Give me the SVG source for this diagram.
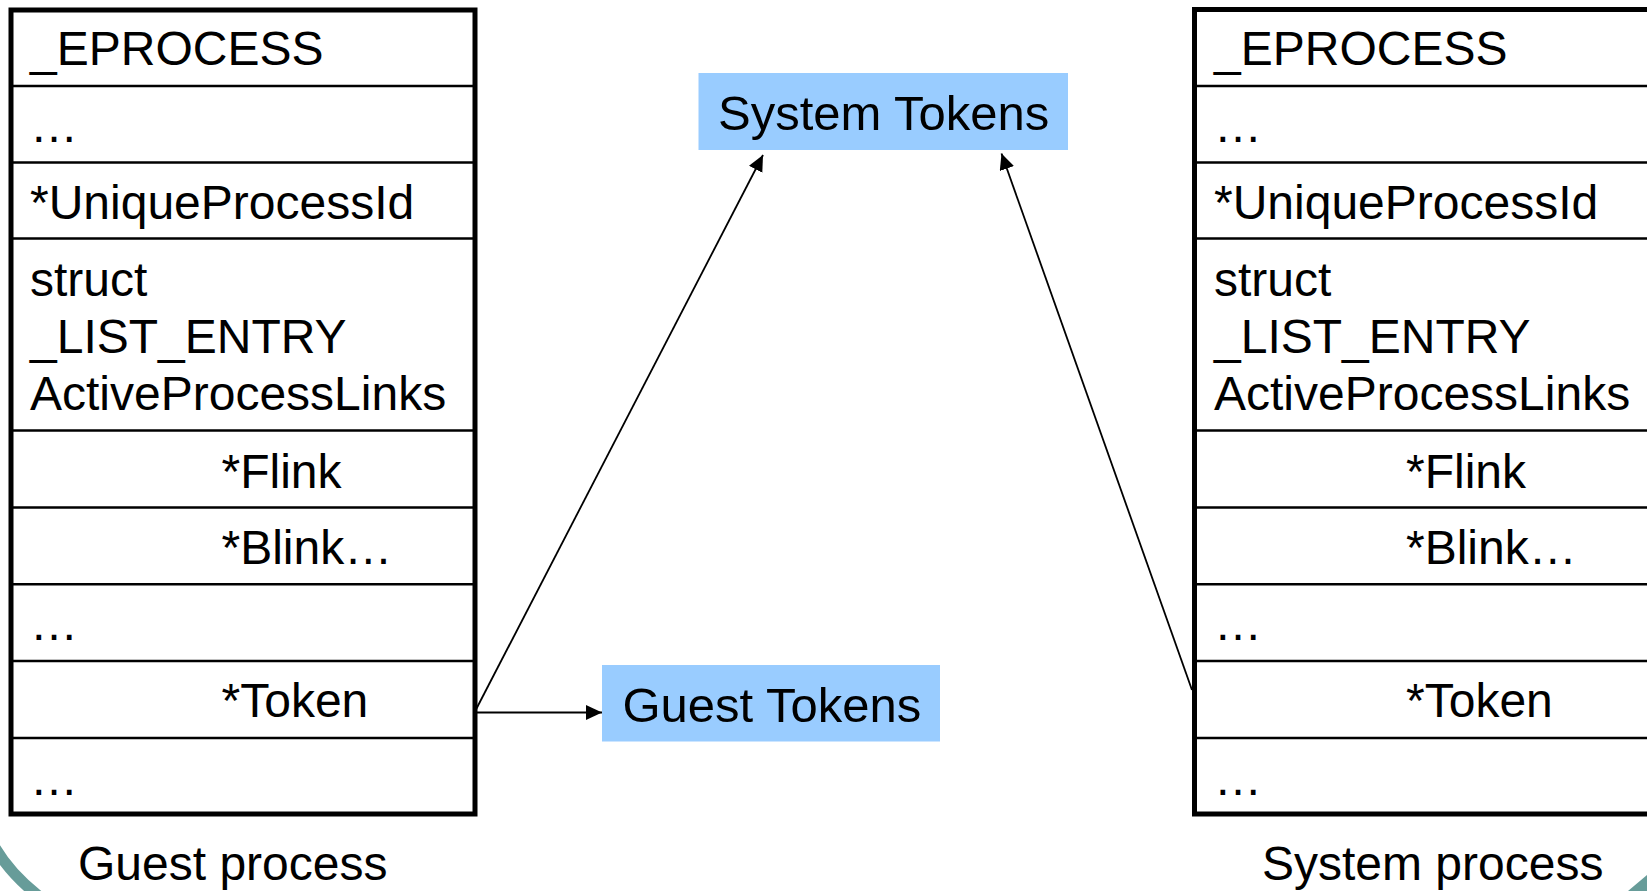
<svg xmlns="http://www.w3.org/2000/svg" width="1647" height="891" viewBox="0 0 1647 891">
<style>
  .box { fill: #ffffff; stroke: #000000; stroke-width: 5; }
  .row { stroke: #000000; stroke-width: 2.5; }
  .t { font-family: "Liberation Sans", Arial, sans-serif; font-size: 48px; fill: #000000; }
  .tt { font-family: "Liberation Sans", Arial, sans-serif; font-size: 49px; fill: #000000; }
  .tok { fill: #99CCFF; }
  .conn { stroke: #000000; stroke-width: 1.8; fill: none; marker-end: url(#arrow); }
  .deco { fill: none; stroke: #679C99; stroke-width: 11; }
</style>
<defs>
  <marker id="arrow" markerUnits="userSpaceOnUse" markerWidth="17" markerHeight="16" refX="16" refY="7.5" orient="auto">
    <path d="M0,0 L16,7.5 L0,15 z" fill="#000000"/>
  </marker>
</defs>
<rect x="0" y="0" width="1647" height="891" fill="#ffffff"/>
<path class="deco" d="M-6,846 Q10,874 40,897"/>
<polygon points="1628,891 1647,875 1647,891" fill="#679C99"/>

<g id="guest-process">
  <rect class="box" x="11" y="10" width="464" height="804"/>
  <line class="row" x1="11" y1="86" x2="475" y2="86"/>
  <line class="row" x1="11" y1="162.5" x2="475" y2="162.5"/>
  <line class="row" x1="11" y1="238.5" x2="475" y2="238.5"/>
  <line class="row" x1="11" y1="430.5" x2="475" y2="430.5"/>
  <line class="row" x1="11" y1="507.5" x2="475" y2="507.5"/>
  <line class="row" x1="11" y1="584.3" x2="475" y2="584.3"/>
  <line class="row" x1="11" y1="661" x2="475" y2="661"/>
  <line class="row" x1="11" y1="738" x2="475" y2="738"/>
  <text class="t" x="30" y="65">_EPROCESS</text>
  <text class="t" x="30" y="141.5">…</text>
  <text class="t" x="30" y="218.5">*UniqueProcessId</text>
  <text class="t" x="30" y="296">struct</text>
  <text class="t" x="30" y="353">_LIST_ENTRY</text>
  <text class="t" x="30" y="409.5">ActiveProcessLinks</text>
  <text class="t" x="221.5" y="488">*Flink</text>
  <text class="t" x="221.5" y="563.5">*Blink…</text>
  <text class="t" x="30" y="640">…</text>
  <text class="t" x="221.5" y="716.5">*Token</text>
  <text class="t" x="30" y="795">…</text>
  <text class="t" x="78" y="880">Guest process</text>
</g>

<g id="system-process">
  <rect class="box" x="1194.5" y="9.5" width="470" height="804.5"/>
  <line class="row" x1="1194.5" y1="86" x2="1660" y2="86"/>
  <line class="row" x1="1194.5" y1="162.5" x2="1660" y2="162.5"/>
  <line class="row" x1="1194.5" y1="238.5" x2="1660" y2="238.5"/>
  <line class="row" x1="1194.5" y1="430.5" x2="1660" y2="430.5"/>
  <line class="row" x1="1194.5" y1="507.5" x2="1660" y2="507.5"/>
  <line class="row" x1="1194.5" y1="584.3" x2="1660" y2="584.3"/>
  <line class="row" x1="1194.5" y1="661" x2="1660" y2="661"/>
  <line class="row" x1="1194.5" y1="738" x2="1660" y2="738"/>
  <text class="t" x="1214" y="65">_EPROCESS</text>
  <text class="t" x="1214" y="141.5">…</text>
  <text class="t" x="1214" y="218.5">*UniqueProcessId</text>
  <text class="t" x="1214" y="296">struct</text>
  <text class="t" x="1214" y="353">_LIST_ENTRY</text>
  <text class="t" x="1214" y="409.5">ActiveProcessLinks</text>
  <text class="t" x="1406" y="488">*Flink</text>
  <text class="t" x="1406" y="563.5">*Blink…</text>
  <text class="t" x="1214" y="640">…</text>
  <text class="t" x="1406" y="716.5">*Token</text>
  <text class="t" x="1214" y="795">…</text>
  <text class="t" x="1262" y="880">System process</text>
</g>

<g id="system-tokens">
  <rect class="tok" x="698.5" y="73" width="369.5" height="77"/>
  <text class="tt" x="718" y="130">System Tokens</text>
</g>

<g id="guest-tokens">
  <rect class="tok" x="602" y="665" width="338" height="76.5"/>
  <text class="tt" x="622.5" y="722">Guest Tokens</text>
</g>

<g id="connectors">
  <line class="conn" x1="476" y1="709.5" x2="763" y2="155"/>
  <line class="conn" x1="476" y1="712.5" x2="602" y2="712.5"/>
  <line class="conn" x1="1192" y1="690" x2="1001.5" y2="153.5"/>
</g>
</svg>
